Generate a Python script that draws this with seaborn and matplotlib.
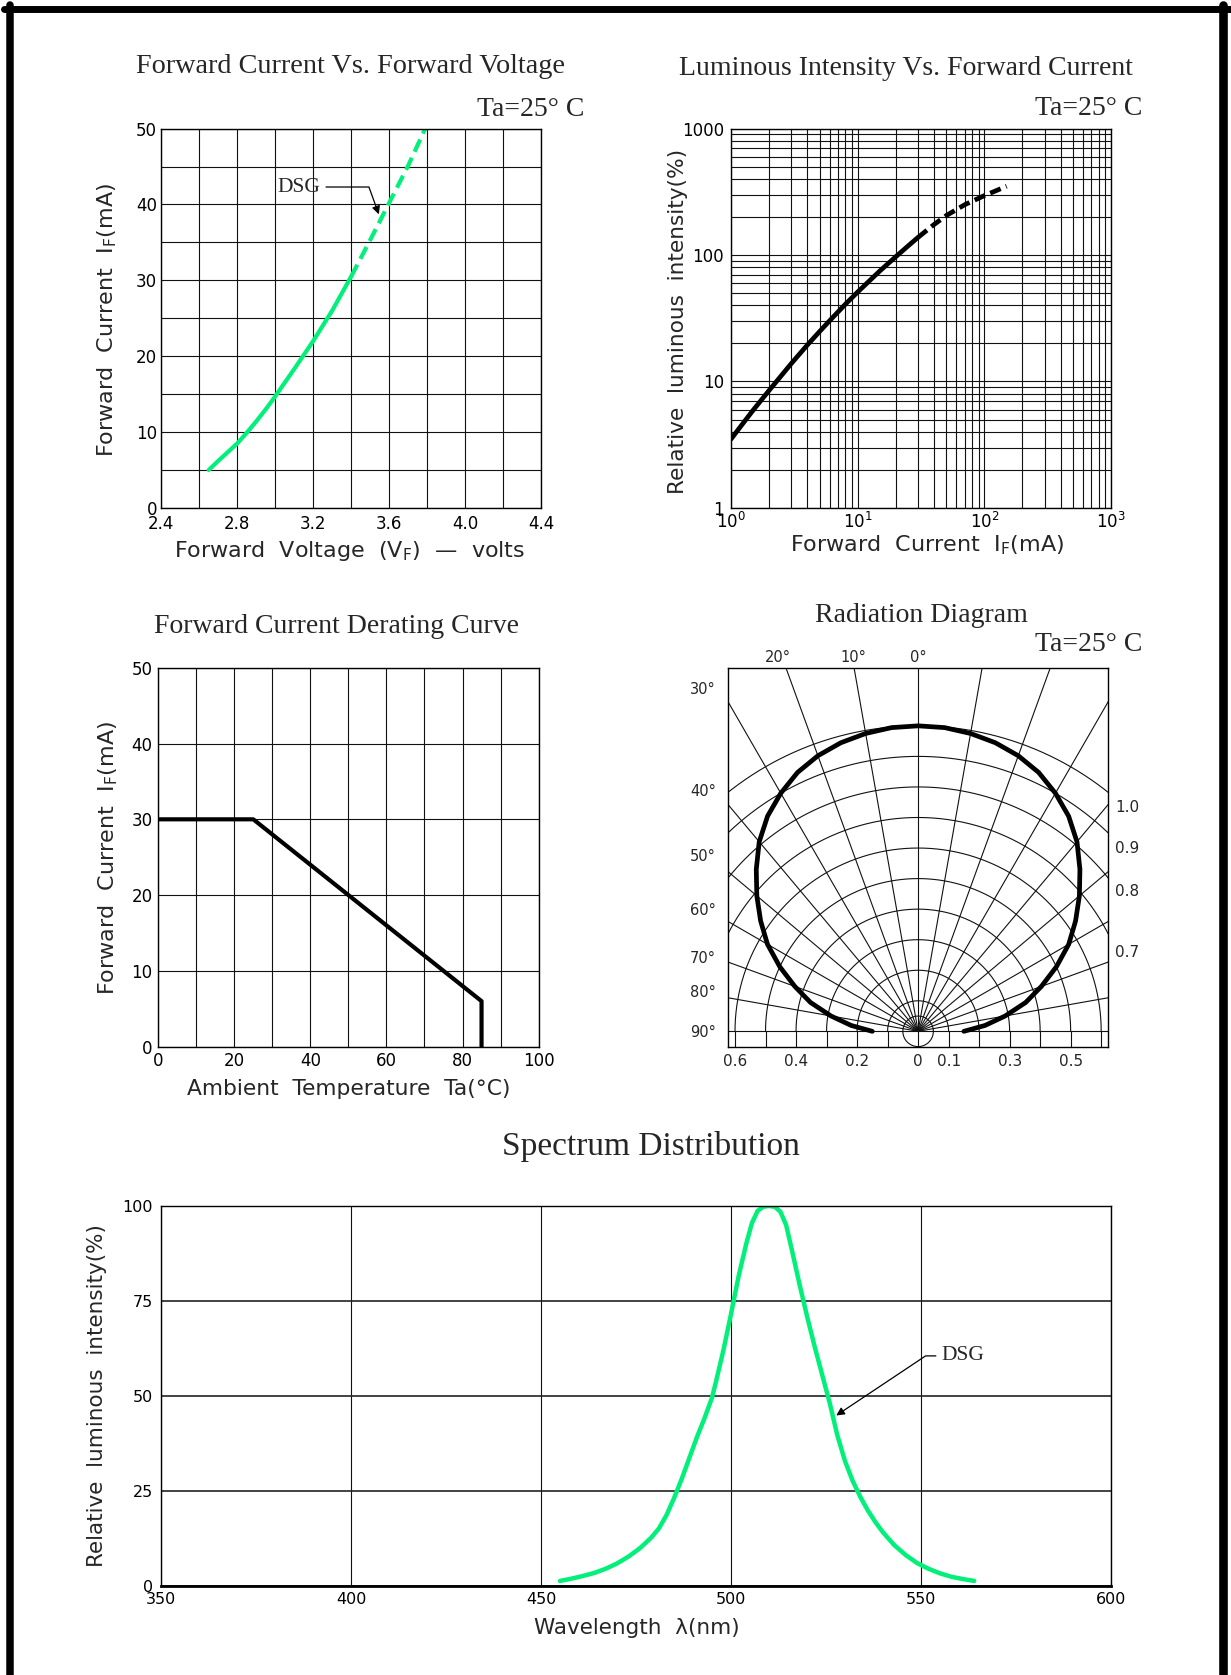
import numpy as np
import pandas as pd
import matplotlib
matplotlib.use("Agg")
import matplotlib.pyplot as plt
from matplotlib.lines import Line2D
from matplotlib.ticker import FixedLocator, FuncFormatter
import seaborn as sns

# ---- data ----
# forward current vs forward voltage (solid = measured, dashed = extrapolated)
vf_solid = [2.65, 2.7, 2.75, 2.8, 2.85, 2.9, 2.95, 3.0, 3.1, 3.2, 3.3, 3.4]
if_solid = [5.0, 6.2, 7.35, 8.5, 9.9, 11.4, 13.0, 14.7, 18.3, 22.0, 26.0, 30.5]
vf_dash = [3.4, 3.5, 3.6, 3.7, 3.79]
if_dash = [30.5, 35.3, 40.2, 45.1, 50.0]

# relative luminous intensity vs forward current
lf_solid = [1, 1.2, 1.5, 2, 3, 4, 5, 6, 7, 8, 10, 15, 20, 25, 30]
lv_solid = [3.5, 4.45, 5.95, 8.5, 13.9, 19.4, 24.8, 30.2, 35.5, 40.8, 51, 75, 97, 118, 138]
lf_dash = [30, 40, 50, 70, 100, 150]
lv_dash = [138, 174, 205, 250, 295, 350]

# derating curve
ta = [0, 25, 85, 85]
if_max = [30, 30, 6, 0]

# radiation diagram (angle from axis, relative intensity)
rad_angle = list(range(-90, 95, 5))
rad_rel = [0.15, 0.22, 0.29, 0.365, 0.43, 0.50, 0.57, 0.63, 0.69, 0.75, 0.81,
           0.86, 0.90, 0.935, 0.96, 0.978, 0.99, 0.998, 1.0, 0.998, 0.99, 0.978,
           0.96, 0.935, 0.90, 0.86, 0.81, 0.75, 0.69, 0.63, 0.57, 0.50, 0.43,
           0.365, 0.29, 0.22, 0.15]
ray_angles = [-80, -70, -60, -50, -40, -30, -20, -10, 0, 10, 20, 30, 40, 50, 60, 70, 80]
arc_radii = [0.1, 0.2, 0.3, 0.4, 0.5, 0.6, 0.7, 0.8, 0.9, 1.0]
rad_xticks = [-0.6, -0.4, -0.2, 0, 0.1, 0.3, 0.5]
rad_xlabels = ["0.6", "0.4", "0.2", "0", "0.1", "0.3", "0.5"]
deg_labels = ["30°", "40°", "50°", "60°", "70°", "80°", "90°"]
deg_pos = [1.125, 0.79, 0.577, 0.40, 0.243, 0.131, 0.0]
top_labels = ["20°", "10°", "0°"]
top_pos = [-0.459, -0.213, 0.0]
ring_labels = ["1.0", "0.9", "0.8", "0.7"]
ring_pos = [0.734, 0.60, 0.457, 0.259]

# spectrum distribution
wl = [455, 458, 461, 464, 467, 470, 473, 476, 479, 481, 483, 485, 487, 489, 491,
      493, 495, 496, 498, 500, 502, 504, 505.5, 507, 508.5, 510, 511.5, 513, 514.5,
      516, 518, 520, 522, 524, 526, 528, 530, 532, 534, 536, 538, 540, 543, 546,
      549, 552, 555, 558, 561, 564]
spec = [1.2, 1.8, 2.5, 3.3, 4.4, 5.8, 7.6, 9.8, 12.6, 15.0, 18.5, 23.0, 28.0, 33.5, 39.0,
        44.0, 49.5, 53.5, 62.0, 71.5, 81.5, 90.0, 95.5, 98.7, 99.8, 100, 99.8, 98.5, 95.0,
        88.5, 79.5, 71.0, 63.0, 55.5, 48.0, 39.5, 32.8, 27.6, 23.4, 19.8, 16.7, 14.0, 10.6, 8.0,
        5.9, 4.4, 3.2, 2.3, 1.7, 1.2]

GREEN = "#00F07A"
W, H = 1231, 1675

sns.set_style("white")
plt.rcParams["font.family"] = ["DejaVu Sans"]
plt.rcParams["mathtext.default"] = "regular"
SERIF = "Liberation Serif"

fig = plt.figure(figsize=(W / 100, H / 100), dpi=100)


def box(x0, y0, x1, y1):
    return [x0 / W, 1 - y1 / H, (x1 - x0) / W, (y1 - y0) / H]


def ftext(x, y, s, **kw):
    fig.text(x / W, 1 - y / H, s, **kw)


def style(ax, tick_size=12):
    for sp in ax.spines.values():
        sp.set_color("black")
        sp.set_linewidth(1.0)
    ax.tick_params(which="both", length=0, labelsize=tick_size, colors="black")
    ax.grid(True, which="both", color="#111111", lw=0.8)
    ax.set_axisbelow(True)


def place_labels(ax, xl, yl, xpos, ypos, xsize=15.5, ysize=15.5):
    ax.set_xlabel(xl, fontsize=xsize, va="center")
    ax.set_ylabel(yl, fontsize=ysize, va="center")
    ax.xaxis.set_label_coords(xpos[0] / W, 1 - xpos[1] / H, transform=fig.transFigure)
    ax.yaxis.set_label_coords(ypos[0] / W, 1 - ypos[1] / H, transform=fig.transFigure)


# ---- 1: forward current vs forward voltage ----
ax1 = fig.add_axes(box(161.3, 128.6, 541, 507.9))
style(ax1)
sns.lineplot(x=vf_solid, y=if_solid, ax=ax1, color=GREEN, linewidth=3.0)
sns.lineplot(x=vf_dash, y=if_dash, ax=ax1, color=GREEN, linewidth=3.0,
             linestyle=(0, (3.2, 1.6)))
ax1.set_xlim(2.4, 4.4)
ax1.set_ylim(0, 50)
ax1.xaxis.set_major_locator(FixedLocator([2.4, 2.8, 3.2, 3.6, 4.0, 4.4]))
ax1.xaxis.set_minor_locator(FixedLocator(np.arange(2.4, 4.41, 0.2)))
ax1.yaxis.set_major_locator(FixedLocator([0, 10, 20, 30, 40, 50]))
ax1.yaxis.set_minor_locator(FixedLocator(range(0, 51, 5)))
ax1.xaxis.set_major_formatter(FuncFormatter(lambda v, p: f"{v:.1f}"))
ax1.tick_params(axis="x", pad=5)
ax1.tick_params(axis="y", pad=3)
place_labels(ax1, "Forward  Voltage  (V$_F$)  —  volts",
             "Forward  Current  I$_F$(mA)", (350, 551), (107, 320), 16, 16)
ax1.annotate("DSG", xy=(3.546, 38.7), xytext=(3.01, 42.3), ha="left", va="center",
             family=SERIF, fontsize=15.5,
             arrowprops=dict(arrowstyle="-|>", color="black", lw=0.9, shrinkB=0,
                             mutation_scale=12,
                             connectionstyle="angle,angleA=0,angleB=110,rad=0"))
ftext(351, 73, "Forward Current Vs. Forward Voltage", family=SERIF, fontsize=20.3,
      ha="center", va="baseline")
ftext(584, 116, "Ta=25° C", family=SERIF, fontsize=20, ha="right", va="baseline")

# ---- 2: luminous intensity vs forward current ----
ax2 = fig.add_axes(box(731, 128.6, 1111, 507.9))
ax2.set_xscale("log")
ax2.set_yscale("log")
style(ax2)
sns.lineplot(x=lf_solid, y=lv_solid, ax=ax2, color="black", linewidth=3.4)
sns.lineplot(x=lf_dash, y=lv_dash, ax=ax2, color="black", linewidth=3.4,
             linestyle=(0, (2.4, 1.2)))
ax2.set_xlim(1, 1000)
ax2.set_ylim(1, 1000)
ax2.yaxis.set_major_formatter(FuncFormatter(lambda v, p: f"{v:g}"))
ax2.tick_params(axis="y", pad=5)
ax2.tick_params(axis="x", pad=3)
place_labels(ax2, "Forward  Current  I$_F$(mA)", "Relative  luminous  intensity(%)",
             (927, 545), (678, 321), 16, 15.6)
ftext(906, 75, "Luminous Intensity Vs. Forward Current", family=SERIF, fontsize=20,
      ha="center", va="baseline")
ftext(1142, 115, "Ta=25° C", family=SERIF, fontsize=20, ha="right", va="baseline")

# ---- 3: derating curve ----
ax3 = fig.add_axes(box(158.2, 667.8, 538.6, 1046.6))
style(ax3)
sns.lineplot(x=ta, y=if_max, ax=ax3, color="black", linewidth=3.0, sort=False,
             estimator=None)
ax3.set_xlim(0, 100)
ax3.set_ylim(0, 50)
ax3.xaxis.set_major_locator(FixedLocator(range(0, 101, 20)))
ax3.xaxis.set_minor_locator(FixedLocator(range(0, 101, 10)))
ax3.yaxis.set_major_locator(FixedLocator(range(0, 51, 10)))
ax3.tick_params(axis="both", pad=4)
place_labels(ax3, "Ambient  Temperature  Ta(°C)", "Forward  Current  I$_F$(mA)",
             (349, 1089), (108, 858), 15.7, 16)
ftext(337, 633, "Forward Current Derating Curve", family=SERIF, fontsize=20,
      ha="center", va="baseline")

# ---- 4: radiation diagram ----
ax4 = fig.add_axes(box(728.3, 667.8, 1107.9, 1046.6))
for sp in ax4.spines.values():
    sp.set_color("black")
    sp.set_linewidth(1.0)
gk = dict(color="#111111", lw=0.8)
for a in ray_angles:
    t = np.radians(a)
    ax4.plot([0, 2 * np.sin(t)], [0, 2 * np.cos(t)], **gk)
ax4.axhline(0, **gk)
tt = np.radians(np.linspace(-90, 90, 361))
for r in arc_radii:
    ax4.plot(r * np.sin(tt), r * np.cos(tt), **gk)
    ax4.plot([-r, -r], [-0.06, 0], **gk)
    ax4.plot([r, r], [-0.06, 0], **gk)
ax4.plot([0, 0], [-0.06, 0], **gk)
cc = np.linspace(0, 2 * np.pi, 200)
ax4.plot(0.05 * np.cos(cc), 0.05 * np.sin(cc), **gk)
th = np.radians(rad_angle)
rad_df = pd.DataFrame({"x": np.array(rad_rel) * np.sin(th),
                       "y": np.array(rad_rel) * np.cos(th)})
sns.lineplot(data=rad_df, x="x", y="y", ax=ax4, color="black", linewidth=3.4,
             sort=False, estimator=None)
ax4.set_xlim(-0.622, 0.622)
ax4.set_ylim(-0.05, 1.19)
ax4.set_xticks(rad_xticks, labels=rad_xlabels)
ax4.set_yticks(deg_pos, labels=deg_labels)
ax4.tick_params(axis="x", length=0, labelsize=11, pad=5)
ax4.tick_params(axis="y", length=0, labelsize=10.5, pad=9)
ax4.set_xlabel("")
ax4.set_ylabel("")
for s, xv in zip(top_labels, top_pos):
    ax4.text(xv, 1.027, s, transform=ax4.get_xaxis_transform(), ha="center",
             va="center", fontsize=10.5, clip_on=False)
for s, yv in zip(ring_labels, ring_pos):
    ax4.text(1.02, yv, s, transform=ax4.get_yaxis_transform(), ha="left",
             va="center", fontsize=11, clip_on=False)
ftext(921, 622, "Radiation Diagram", family=SERIF, fontsize=20, ha="center",
      va="baseline")
ftext(1142, 650.6, "Ta=25° C", family=SERIF, fontsize=20, ha="right", va="baseline")

# ---- 5: spectrum distribution ----
ax5 = fig.add_axes(box(161, 1206, 1111, 1585.5))
style(ax5, tick_size=11.5)
ax5.grid(True, axis="y", color="#222222", lw=1.2)
ax5.spines["bottom"].set_linewidth(2.0)
sns.lineplot(x=wl, y=spec, ax=ax5, color=GREEN, linewidth=3.2)
ax5.set_xlim(350, 600)
ax5.set_ylim(0, 100)
ax5.xaxis.set_major_locator(FixedLocator(range(350, 601, 50)))
ax5.yaxis.set_major_locator(FixedLocator(range(0, 101, 25)))
ax5.tick_params(axis="y", pad=6)
ax5.tick_params(axis="x", pad=5)
place_labels(ax5, "Wavelength  λ(nm)", "Relative  luminous  intensity(%)",
             (637, 1628), (97, 1396))
ax5.annotate("DSG", xy=(527.7, 44.8), xytext=(555.5, 60.5), ha="left", va="center",
             family=SERIF, fontsize=15.5,
             arrowprops=dict(arrowstyle="-|>", color="black", lw=0.9, shrinkB=0,
                             mutation_scale=12,
                             connectionstyle="angle,angleA=0,angleB=33.7,rad=0"))
ftext(651, 1154.7, "Spectrum Distribution", family=SERIF, fontsize=24, ha="center",
      va="baseline")

# ---- page frame ----
fig.add_artist(Line2D([4 / W, 1], [1 - 8.5 / H, 1 - 8.5 / H], transform=fig.transFigure,
                      color="black", lw=5.0))
fig.add_artist(Line2D([10 / W, 10 / W], [1 - 5 / H, 0], transform=fig.transFigure,
                      color="black", lw=5.4))
fig.add_artist(Line2D([1223 / W, 1223 / W], [1 - 5 / H, 0], transform=fig.transFigure,
                      color="black", lw=6.2))

fig.savefig("out.png", dpi=100)
